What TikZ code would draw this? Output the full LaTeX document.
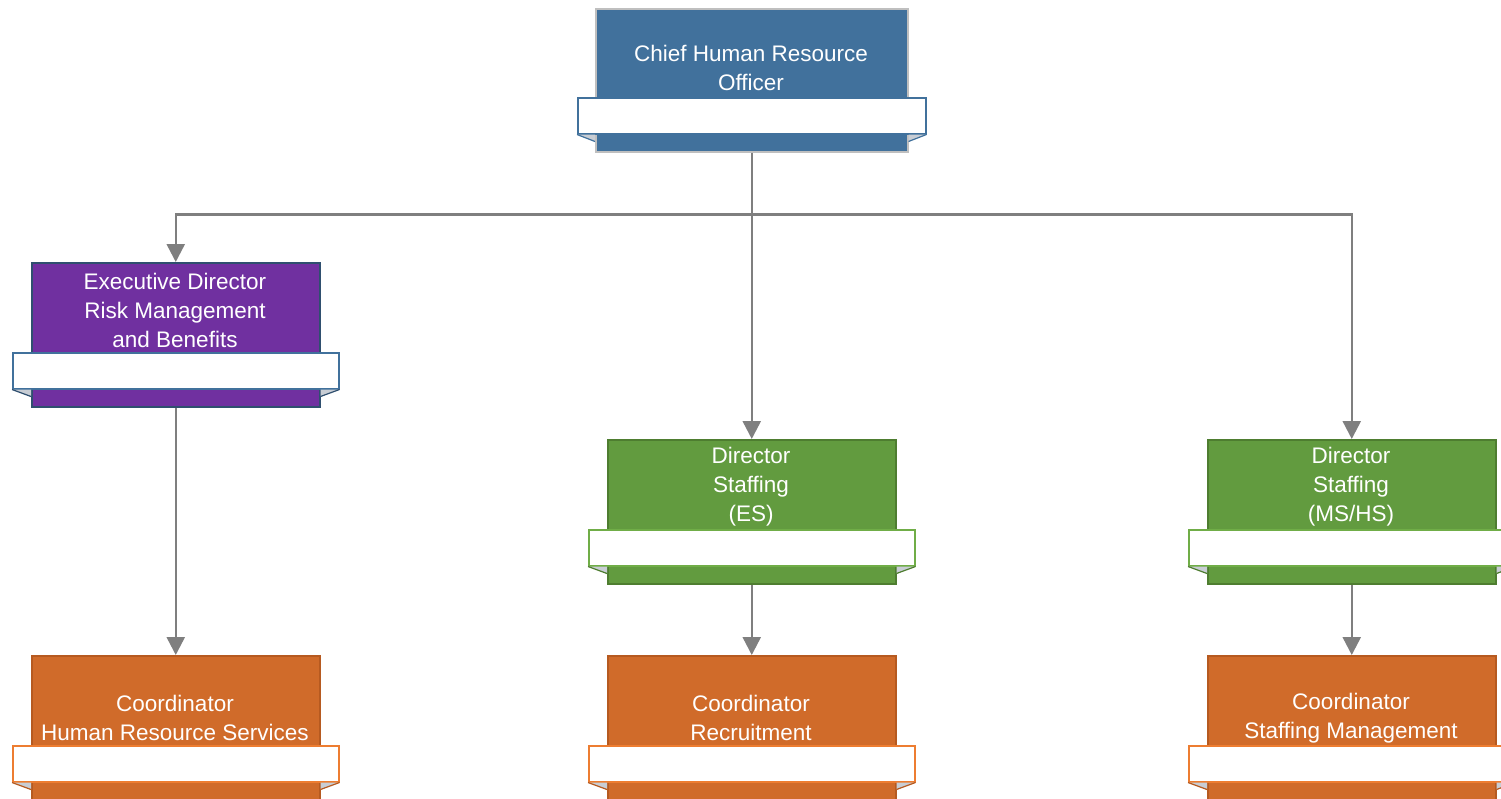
\documentclass[tikz,border=0pt]{standalone}
\usepackage{fontspec}
\setmainfont{Liberation Sans}
\usetikzlibrary{arrows.meta}

\definecolor{chiefblue}{HTML}{41719C}
\definecolor{chiefline}{HTML}{BFBFBF}
\definecolor{riskpurple}{HTML}{7030A0}
\definecolor{riskline}{HTML}{2F4F6F}
\definecolor{staffgreen}{HTML}{629B3F}
\definecolor{staffline}{HTML}{4E7D30}
\definecolor{ribgreen}{HTML}{70AD47}
\definecolor{coordorange}{HTML}{D06B2A}
\definecolor{coordline}{HTML}{B65A20}
\definecolor{riborange}{HTML}{ED7D31}
\definecolor{foldgray}{HTML}{C8CDD4}
\definecolor{conngray}{HTML}{7F7F7F}

\tikzset{
  card/.style={draw, line width=1.5pt, inner sep=0pt, anchor=north west,
    minimum width=288pt, minimum height=144pt},
  ribbon/.style={draw, fill=white, line width=1.5pt, inner sep=0pt, anchor=north,
    minimum width=326pt, minimum height=36pt},
  title/.style={text=white, align=center, inner sep=0pt,
    font=\fontsize{22.5}{29}\selectfont},
  conn/.style={draw=conngray, line width=2.5pt, -{Triangle[width=18pt,length=18pt]}},
}

% folds under the ends of a ribbon: #1 card, #2 ribbon, #3 colour
\newcommand{\folds}[3]{%
  \fill[foldgray] (#2.south west) -- ([yshift=-7pt]#2.south west -| #1.west) -- (#2.south west -| #1.west) -- cycle;
  \draw[#3, line width=1.2pt] (#2.south west) -- ([yshift=-7pt]#2.south west -| #1.west);
  \fill[foldgray] (#2.south east) -- ([yshift=-7pt]#2.south east -| #1.east) -- (#2.south east -| #1.east) -- cycle;
  \draw[#3, line width=1.2pt] (#2.south east) -- ([yshift=-7pt]#2.south east -| #1.east);
}

\begin{document}
\begin{tikzpicture}[x=1pt, y=-1pt]
  \useasboundingbox (0,0) rectangle (1501,798);

  % chief
  \node[card, fill=chiefblue, draw=chiefline, minimum width=312pt, minimum height=143pt] (cho) at (595,8) {};
  \node[title] (cho-t) at (751,68) {Chief Human Resource\\Officer};
  \node[ribbon, draw=chiefblue, minimum width=348pt] (cho-r) at ([yshift=-89pt]cho.north) {};
  \folds{cho}{cho-r}{chiefblue}

  % directors
  \node[card, fill=riskpurple, draw=riskline] (rmb) at (31,262) {};
  \node[title] (rmb-t) at (175,310) {Executive Director\\Risk Management\\and Benefits};
  \node[ribbon, draw=chiefblue] (rmb-r) at ([yshift=-90pt]rmb.north) {};
  \folds{rmb}{rmb-r}{riskline}

  \node[card, fill=staffgreen, draw=staffline] (dse) at (607,439) {};
  \node[title] (dse-t) at (751,487) {Director\\Staffing\\(ES)};
  \node[ribbon, draw=ribgreen] (dse-r) at ([yshift=-90pt]dse.north) {};
  \folds{dse}{dse-r}{staffline}

  \node[card, fill=staffgreen, draw=staffline] (dsm) at (1207,439) {};
  \node[title] (dsm-t) at (1351,487) {Director\\Staffing\\(MS/HS)};
  \node[ribbon, draw=ribgreen] (dsm-r) at ([yshift=-90pt]dsm.north) {};
  \folds{dsm}{dsm-r}{staffline}

  % coordinators
  \node[card, fill=coordorange, draw=coordline] (chr) at (31,655) {};
  \node[title] (chr-t) at (175,718) {Coordinator\\Human Resource Services};
  \node[ribbon, draw=riborange] (chr-r) at ([yshift=-90pt]chr.north) {};
  \folds{chr}{chr-r}{coordline}

  \node[card, fill=coordorange, draw=coordline] (crc) at (607,655) {};
  \node[title] (crc-t) at (751,718) {Coordinator\\Recruitment};
  \node[ribbon, draw=riborange] (crc-r) at ([yshift=-90pt]crc.north) {};
  \folds{crc}{crc-r}{coordline}

  \node[card, fill=coordorange, draw=coordline] (csm) at (1207,655) {};
  \node[title] (csm-t) at (1351,718) {Coordinator\\Staffing Management};
  \node[ribbon, draw=riborange] (csm-r) at ([yshift=-90pt]csm.north) {};
  \folds{csm}{csm-r}{coordline}

  % connectors
  \draw[conngray, line width=2.5pt] (cho.south) -- ++(0,62) coordinate (bus);
  \draw[conn] (bus) -| (rmb.north);
  \draw[conn] (bus) -- (dse.north);
  \draw[conn] (bus) -| (dsm.north);
  \draw[conn] (rmb.south) -- (chr.north);
  \draw[conn] (dse.south) -- (crc.north);
  \draw[conn] (dsm.south) -- (csm.north);
\end{tikzpicture}
\end{document}
